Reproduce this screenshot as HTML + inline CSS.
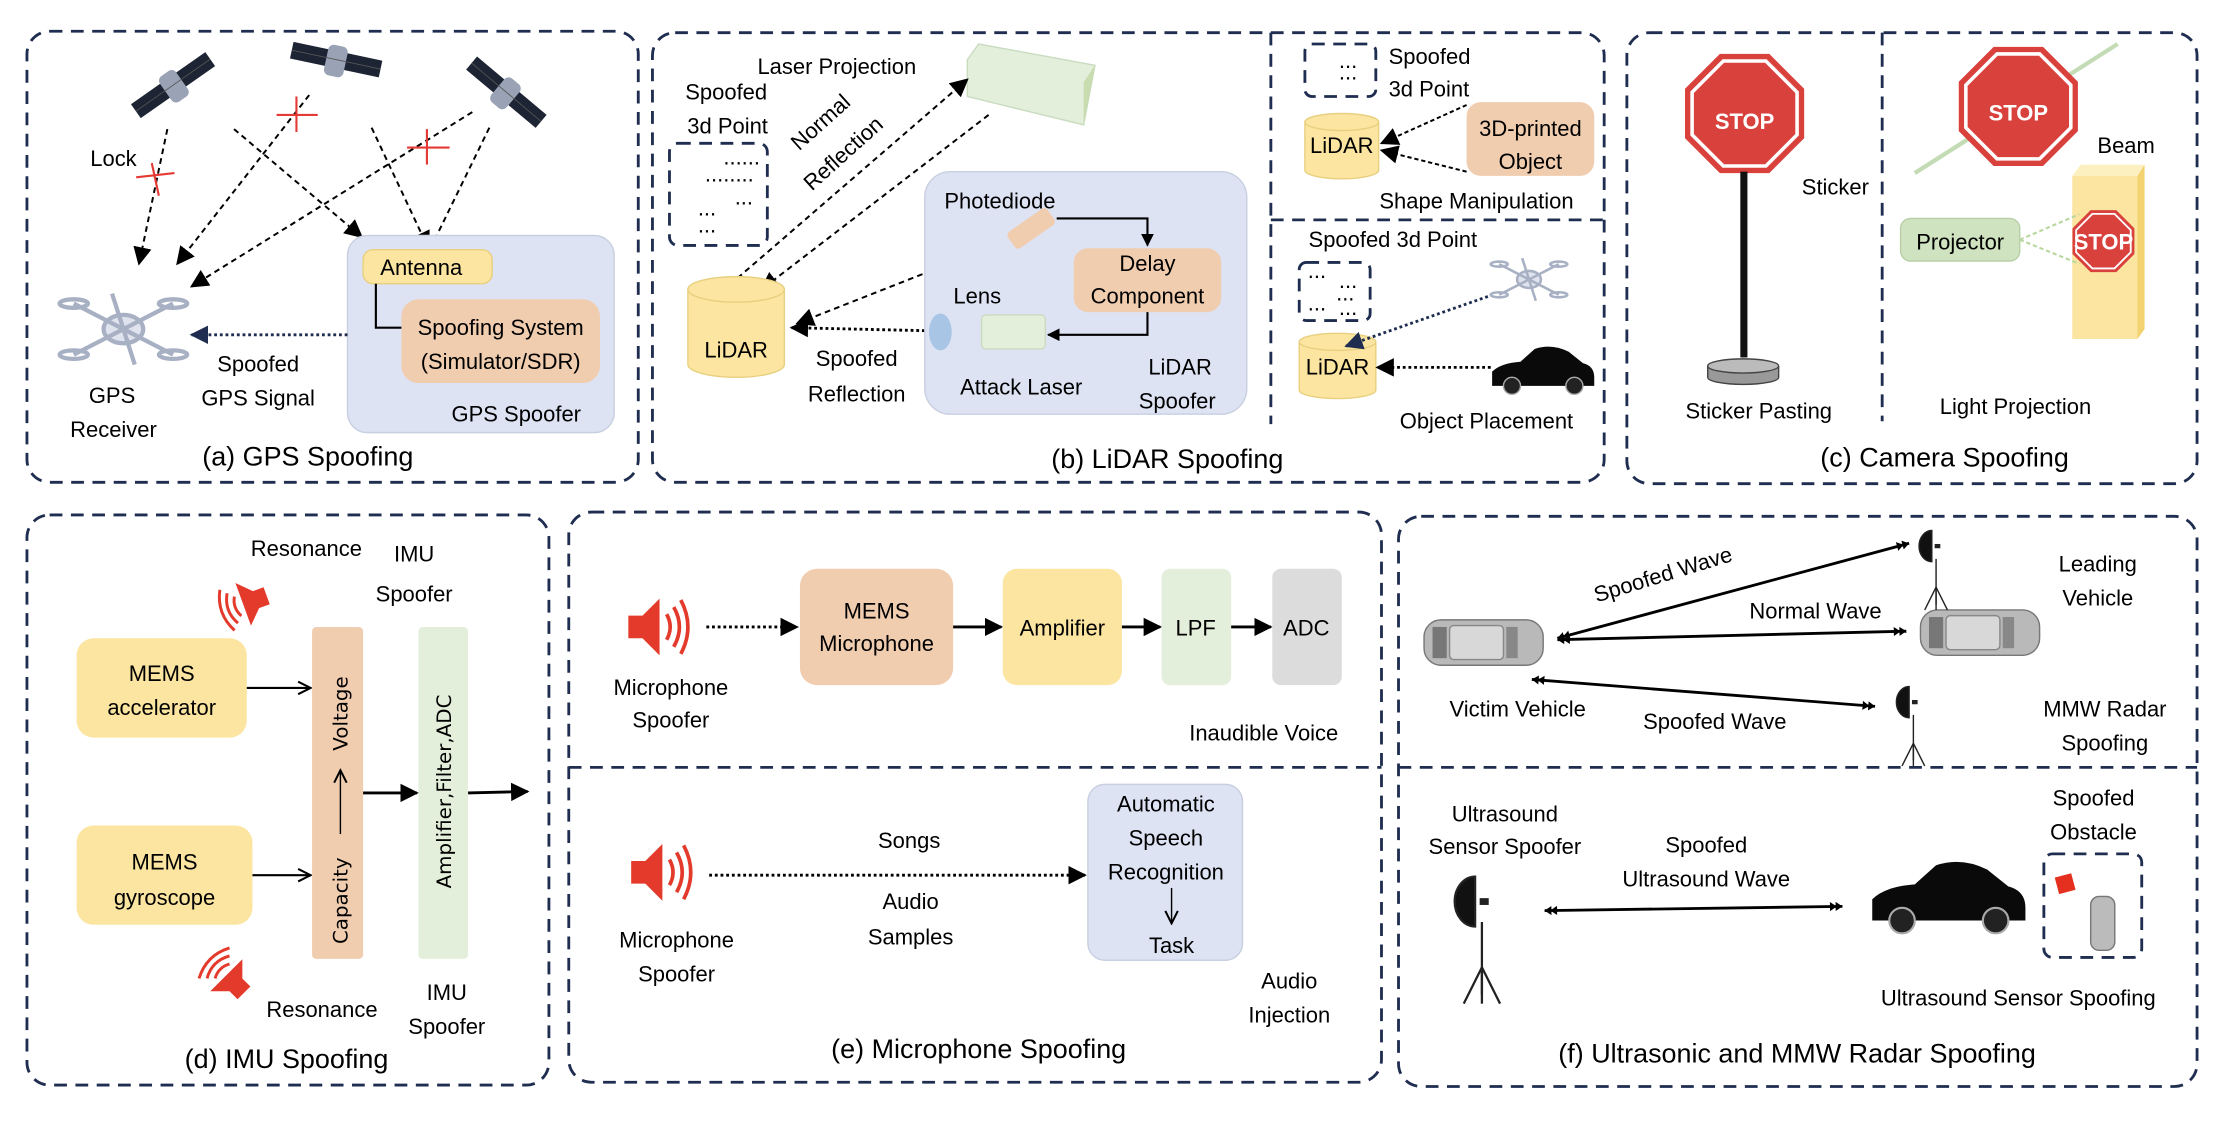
<!DOCTYPE html>
<html><head><meta charset="utf-8"><style>
html,body{margin:0;padding:0;background:#fff;}
svg{display:block;}
text{font-family:"Liberation Sans",sans-serif;font-size:15.5px;fill:#000;}
.cap{font-size:19px;}
</style></head><body>
<svg width="2224" height="1122" viewBox="0 0 1568 791" xmlns="http://www.w3.org/2000/svg">
<defs>
<marker id="ah" viewBox="0 0 10 10" refX="9" refY="5" markerWidth="9" markerHeight="9" markerUnits="userSpaceOnUse" orient="auto-start-reverse"><path d="M0,0 L10,5 L0,10 z" fill="#000"/></marker>
<marker id="ahb" viewBox="0 0 10 10" refX="9" refY="5" markerWidth="13" markerHeight="13" markerUnits="userSpaceOnUse" orient="auto-start-reverse"><path d="M0,0 L10,5 L0,10 z" fill="#000"/></marker>
<marker id="ahn" viewBox="0 0 10 10" refX="9" refY="5" markerWidth="13" markerHeight="13" markerUnits="userSpaceOnUse" orient="auto-start-reverse"><path d="M0,0 L10,5 L0,10 z" fill="#1f2d50"/></marker>
<marker id="ao" viewBox="0 0 10 10" refX="9" refY="5" markerWidth="11" markerHeight="11" markerUnits="userSpaceOnUse" orient="auto"><path d="M1,1 L9,5 L1,9" fill="none" stroke="#000" stroke-width="1.3"/></marker>
<marker id="dd" viewBox="0 0 12 10" refX="11" refY="5" markerWidth="10" markerHeight="8" markerUnits="userSpaceOnUse" orient="auto-start-reverse"><path d="M0,1 L6,5 L0,9 z M5,1 L11,5 L5,9 z" fill="#000"/></marker>
<g id="sat"><rect x="-32" y="-6" width="26" height="12" fill="#1d2433"/><rect x="6" y="-6" width="26" height="12" fill="#1d2433"/><rect x="-7" y="-10" width="14" height="22" rx="4" fill="#9aa3b5"/><line x1="-32" y1="0" x2="32" y2="0" stroke="#555" stroke-width="0.6"/></g>
<g id="drone" fill="none" stroke="#a8b0c4" stroke-width="3"><ellipse cx="0" cy="0" rx="14" ry="10" fill="#dfe3ee"/><line x1="-35" y1="-18" x2="35" y2="18"/><line x1="-35" y1="18" x2="35" y2="-18"/><line x1="-8" y1="-25" x2="8" y2="25"/><ellipse cx="-35" cy="-18" rx="10" ry="3"/><ellipse cx="35" cy="18" rx="10" ry="3"/><ellipse cx="35" cy="-18" rx="10" ry="3"/><ellipse cx="-35" cy="18" rx="10" ry="3"/></g>
<g id="topcar"><rect x="-42" y="-16" width="84" height="32" rx="12" fill="#b9b9b9" stroke="#777"/><rect x="-24" y="-12" width="38" height="24" rx="3" fill="#d8d8d8" stroke="#888"/><rect x="-36" y="-11" width="10" height="22" fill="#777"/><rect x="16" y="-11" width="8" height="22" fill="#888"/></g>
<g id="blackcar"><path d="M-36,8 L-36,-2 Q-30,-8 -16,-9 L-6,-18 Q6,-22 18,-16 L28,-8 Q36,-6 36,2 L36,8 z" fill="#0a0a0a"/><circle cx="-22" cy="8" r="6" fill="#222" stroke="#aaa"/><circle cx="22" cy="8" r="6" fill="#222" stroke="#aaa"/></g>
<g id="tripod" stroke="#222" fill="none" stroke-width="1"><path d="M0,-20 a9,11 0 0 0 0,22 z" fill="#111"/><line x1="2" y1="-9" x2="6" y2="-9" stroke-width="3"/><line x1="3" y1="0" x2="3" y2="32"/><line x1="3" y1="20" x2="-5" y2="36"/><line x1="3" y1="20" x2="11" y2="36"/><line x1="3" y1="20" x2="3" y2="36"/></g>
<g id="spk"><path d="M0,-8 L10,-8 L22,-20 L22,20 L10,8 L0,8 z" fill="#e33a2b"/><path d="M27,-9 Q32,0 27,9 M32,-14 Q40,0 32,14 M37,-19 Q47,0 37,19" fill="none" stroke="#e33a2b" stroke-width="2.6"/></g>
<g id="octa"><polygon points="-17,-41 17,-41 41,-17 41,17 17,41 -17,41 -41,17 -41,-17" fill="#d9413c" stroke="#d9413c" stroke-width="2"/><polygon points="-15,-37 15,-37 37,-15 37,15 15,37 -15,37 -37,15 -37,-15" fill="#d9413c" stroke="#fff" stroke-width="2.5"/></g>
</defs>
<g fill="none" stroke="#1f2d50" stroke-width="2" stroke-dasharray="9,6">
<rect x="19" y="22" width="431" height="318" rx="16"/>
<rect x="460" y="23" width="671" height="317" rx="16"/>
<line x1="896" y1="23" x2="896" y2="299"/><line x1="896" y1="155" x2="1131" y2="155"/>
<rect x="1147" y="23" width="402" height="318" rx="16"/>
<line x1="1327" y1="23" x2="1327" y2="297"/>
<rect x="19" y="363" width="368" height="402" rx="16"/>
<rect x="401" y="361" width="573" height="402" rx="16"/>
<line x1="401" y1="541" x2="974" y2="541"/>
<rect x="986" y="364" width="563" height="402" rx="16"/>
<line x1="986" y1="541" x2="1549" y2="541"/>
</g>
<!-- (a) -->
<use href="#sat" transform="translate(122,60) rotate(-35)"/>
<use href="#sat" transform="translate(237,42) rotate(12)"/>
<use href="#sat" transform="translate(357,65) rotate(40)"/>
<g stroke="#000" stroke-width="1.4" stroke-dasharray="4,3" fill="none">
<line x1="118" y1="91" x2="98" y2="186" marker-end="url(#ahb)"/>
<line x1="218" y1="67" x2="125" y2="186" marker-end="url(#ahb)"/>
<line x1="165" y1="91" x2="255" y2="167" marker-end="url(#ahb)"/>
<line x1="262" y1="90" x2="302" y2="175" marker-end="url(#ahb)"/>
<line x1="333" y1="79" x2="135" y2="202" marker-end="url(#ahb)"/>
<line x1="345" y1="90" x2="305" y2="172"/>
</g>
<g stroke="#e53935" stroke-width="1.5"><line x1="96" y1="125" x2="123" y2="122"/><line x1="107" y1="115" x2="112" y2="138"/><line x1="195" y1="81" x2="224" y2="81"/><line x1="209" y1="68" x2="209" y2="93"/><line x1="287" y1="104" x2="317" y2="104"/><line x1="301" y1="91" x2="301" y2="116"/></g>
<text x="80" y="117" text-anchor="middle">Lock</text>
<use href="#drone" transform="translate(87,232)"/>
<rect x="245" y="166" width="188" height="139" rx="14" fill="#dde3f3" stroke="#c8cfe0"/>
<rect x="256" y="176" width="91" height="24" rx="7" fill="#fbe5a0" stroke="#e8d080"/>
<text x="297" y="194" text-anchor="middle">Antenna</text>
<rect x="283" y="211" width="140" height="59" rx="12" fill="#f1cdb0"/>
<text x="353" y="236" text-anchor="middle">Spoofing System</text>
<text x="353" y="260" text-anchor="middle">(Simulator/SDR)</text>
<polyline points="265,200 265,231 283,231" fill="none" stroke="#000" stroke-width="1.5"/>
<line x1="245" y1="236" x2="135" y2="236" stroke="#1f2d50" stroke-width="2" stroke-dasharray="2,2" marker-end="url(#ahn)"/>
<text x="182" y="262" text-anchor="middle">Spoofed</text><text x="182" y="286" text-anchor="middle">GPS Signal</text>
<text x="79" y="284" text-anchor="middle">GPS</text><text x="80" y="308" text-anchor="middle">Receiver</text>
<text x="364" y="297" text-anchor="middle">GPS Spoofer</text>
<text x="217" y="328" text-anchor="middle" class="cap">(a) GPS Spoofing</text>
<!-- (b) -->
<text x="590" y="52" text-anchor="middle">Laser Projection</text>
<text x="512" y="70" text-anchor="middle">Spoofed</text><text x="513" y="94" text-anchor="middle">3d Point</text>
<rect x="472" y="101" width="69" height="72" rx="6" fill="none" stroke="#1f2d50" stroke-width="2" stroke-dasharray="9,6"/>
<text x="510" y="116" font-size="11">......</text><text x="497" y="128" font-size="11">........</text><text x="518" y="144" font-size="11">...</text><text x="492" y="152" font-size="11">...</text><text x="492" y="164" font-size="11">...</text>
<text transform="translate(582,90) rotate(-42)" text-anchor="middle">Normal</text>
<text transform="translate(598,112) rotate(-42)" text-anchor="middle">Reflection</text>
<polygon points="682,42 690,31 772,46 764,88 682,68" fill="#e3efdb" stroke="#c9dcc0"/>
<polygon points="764,58 772,46 764,88" fill="#c9dcb0"/>
<g stroke="#000" stroke-width="1.4" stroke-dasharray="4,3" fill="none">
<line x1="520" y1="196" x2="682" y2="56" marker-end="url(#ahb)"/>
<line x1="697" y1="81" x2="537" y2="204" marker-end="url(#ahb)"/>
<line x1="562" y1="228" x2="707" y2="171" marker-start="url(#ahb)" marker-end="url(#ahb)"/>
</g>
<line x1="692" y1="234" x2="558" y2="231" stroke="#000" stroke-width="2" stroke-dasharray="2,2" marker-end="url(#ahb)"/>
<g><path d="M485,204 v53 a34,9 0 0 0 68,0 v-53" fill="#fbe5a0" stroke="#e8d080"/><ellipse cx="519" cy="204" rx="34" ry="9" fill="#fbe5a0" stroke="#e8d080"/></g>
<text x="519" y="252" text-anchor="middle">LiDAR</text>
<text x="604" y="258" text-anchor="middle">Spoofed</text><text x="604" y="283" text-anchor="middle">Reflection</text>
<rect x="652" y="121" width="227" height="171" rx="18" fill="#dde3f3" stroke="#c8cfe0"/>
<text x="705" y="147" text-anchor="middle">Photediode</text>
<rect x="710" y="154" width="34" height="14" rx="3" fill="#f1cdb0" transform="rotate(-35 727 161)"/>
<rect x="757" y="175" width="104" height="45" rx="10" fill="#f1cdb0"/>
<text x="809" y="191" text-anchor="middle">Delay</text><text x="809" y="214" text-anchor="middle">Component</text>
<polyline points="745,154 809,154 809,173" fill="none" stroke="#000" stroke-width="1.5" marker-end="url(#ah)"/>
<polyline points="809,220 809,236 739,236" fill="none" stroke="#000" stroke-width="1.5" marker-end="url(#ah)"/>
<rect x="692" y="222" width="45" height="24" rx="3" fill="#e3efda" stroke="#c9dcc0"/>
<ellipse cx="663" cy="234" rx="8" ry="13" fill="#a9c5e6"/>
<text x="689" y="214" text-anchor="middle">Lens</text>
<text x="720" y="278" text-anchor="middle">Attack Laser</text>
<text x="832" y="264" text-anchor="middle">LiDAR</text><text x="830" y="288" text-anchor="middle">Spoofer</text>
<text x="823" y="330" text-anchor="middle" class="cap">(b) LiDAR Spoofing</text>
<rect x="920" y="31" width="50" height="37" rx="5" fill="none" stroke="#1f2d50" stroke-width="2" stroke-dasharray="9,6"/>
<text x="944" y="48" font-size="10">...</text><text x="944" y="56" font-size="10">...</text>
<text x="979" y="45">Spoofed</text><text x="979" y="68">3d Point</text>
<g><path d="M920,86 v34 a26,6 0 0 0 52,0 v-34" fill="#fbe5a0" stroke="#e8d080"/><ellipse cx="946" cy="86" rx="26" ry="6" fill="#fbe5a0" stroke="#e8d080"/></g>
<text x="946" y="108" text-anchor="middle">LiDAR</text>
<rect x="1034" y="72" width="90" height="52" rx="10" fill="#f1cdb0"/>
<text x="1079" y="96" text-anchor="middle">3D-printed</text><text x="1079" y="119" text-anchor="middle">Object</text>
<g stroke="#000" stroke-width="1.4" stroke-dasharray="3,2" fill="none"><line x1="1034" y1="74" x2="974" y2="101" marker-end="url(#ahb)"/><line x1="1034" y1="121" x2="974" y2="106" marker-end="url(#ahb)"/></g>
<text x="1041" y="147" text-anchor="middle">Shape Manipulation</text>
<text x="982" y="174" text-anchor="middle">Spoofed 3d Point</text>
<rect x="916" y="185" width="50" height="41" rx="5" fill="none" stroke="#1f2d50" stroke-width="2" stroke-dasharray="9,6"/>
<text x="922" y="196" font-size="10">...</text><text x="944" y="203" font-size="10">...</text><text x="942" y="212" font-size="10">...</text><text x="922" y="219" font-size="10">...</text><text x="944" y="222" font-size="10">...</text>
<g><path d="M916,241 v34 a27,6 0 0 0 54,0 v-34" fill="#fbe5a0" stroke="#e8d080"/><ellipse cx="943" cy="241" rx="27" ry="6" fill="#fbe5a0" stroke="#e8d080"/></g>
<text x="943" y="264" text-anchor="middle">LiDAR</text>
<use href="#drone" transform="translate(1078,197) scale(0.6)"/>
<line x1="1049" y1="209" x2="949" y2="244" stroke="#1f2d50" stroke-width="2" stroke-dasharray="2,2" marker-end="url(#ahn)"/>
<use href="#blackcar" transform="translate(1088,264)"/>
<line x1="1051" y1="259" x2="971" y2="259" stroke="#000" stroke-width="2" stroke-dasharray="2,2" marker-end="url(#ahb)"/>
<text x="1048" y="302" text-anchor="middle">Object Placement</text>
<!-- (c) -->
<use href="#octa" transform="translate(1230,80)"/>
<text x="1230" y="91" text-anchor="middle" font-size="27" font-weight="bold" style="fill:#fff">STOP</text>
<rect x="1227" y="121" width="5" height="131" fill="#111"/>
<path d="M1204,258 v8 a25,5 0 0 0 50,0 v-8" fill="#999" stroke="#444"/><ellipse cx="1229" cy="258" rx="25" ry="5" fill="#bbb" stroke="#444"/>
<text x="1294" y="137" text-anchor="middle">Sticker</text>
<text x="1240" y="295" text-anchor="middle">Sticker Pasting</text>
<line x1="1350" y1="122" x2="1493" y2="31" stroke="#c3dcb5" stroke-width="3"/>
<use href="#octa" transform="translate(1423,75)"/>
<text x="1423" y="85" text-anchor="middle" font-size="26" font-weight="bold" style="fill:#fff">STOP</text>
<text x="1499" y="108" text-anchor="middle">Beam</text>
<polygon points="1461,124 1467,116 1512,116 1507,124" fill="#fdf0c0"/>
<rect x="1461" y="124" width="46" height="115" fill="#fbe5a0"/>
<polygon points="1507,124 1512,116 1512,232 1507,239" fill="#f3d270"/>
<use href="#octa" transform="translate(1483,170) scale(0.52)"/>
<text x="1483" y="176" text-anchor="middle" font-size="13" font-weight="bold" style="fill:#fff">STOP</text>
<g stroke="#b8d8a0" stroke-width="1.5" stroke-dasharray="3,2"><line x1="1424" y1="169" x2="1466" y2="151"/><line x1="1424" y1="169" x2="1466" y2="186"/></g>
<rect x="1340" y="154" width="84" height="30" rx="7" fill="#cfe3c0" stroke="#b8d0a8"/>
<text x="1382" y="176" text-anchor="middle">Projector</text>
<text x="1421" y="292" text-anchor="middle">Light Projection</text>
<text x="1371" y="329" text-anchor="middle" class="cap">(c) Camera Spoofing</text>
<!-- (d) -->
<text x="216" y="392" text-anchor="middle">Resonance</text><text x="292" y="396" text-anchor="middle">IMU</text><text x="292" y="424" text-anchor="middle">Spoofer</text>
<use href="#spk" transform="translate(188,420) rotate(160) scale(0.8)"/>
<rect x="54" y="450" width="120" height="70" rx="12" fill="#fbe5a0"/>
<text x="114" y="480" text-anchor="middle">MEMS</text><text x="114" y="504" text-anchor="middle">accelerator</text>
<rect x="54" y="582" width="124" height="70" rx="12" fill="#fbe5a0"/>
<text x="116" y="613" text-anchor="middle">MEMS</text><text x="116" y="638" text-anchor="middle">gyroscope</text>
<rect x="220" y="442" width="36" height="234" rx="3" fill="#f1cdb0"/>
<rect x="295" y="442" width="35" height="234" rx="3" fill="#e3efda"/>
<text transform="translate(245,635) rotate(-90)" text-anchor="middle" style="font-family:'DejaVu Sans',sans-serif;font-size:14px">Capacity</text>
<text transform="translate(245,503) rotate(-90)" text-anchor="middle" style="font-family:'DejaVu Sans',sans-serif;font-size:14px">Voltage</text>
<line x1="240" y1="588" x2="240" y2="543" stroke="#000" stroke-width="1" marker-end="url(#ao)"/>
<text transform="translate(318,558) rotate(-90)" text-anchor="middle" style="font-family:'DejaVu Sans',sans-serif;font-size:14px">Amplifier,Filter,ADC</text>
<line x1="174" y1="485" x2="219" y2="485" stroke="#000" stroke-width="1.5" marker-end="url(#ao)"/>
<line x1="178" y1="617" x2="219" y2="617" stroke="#000" stroke-width="1.5" marker-end="url(#ao)"/>
<line x1="256" y1="559" x2="294" y2="559" stroke="#000" stroke-width="2" marker-end="url(#ahb)"/>
<line x1="330" y1="559" x2="372" y2="558" stroke="#000" stroke-width="2" marker-end="url(#ahb)"/>
<use href="#spk" transform="translate(172,700) rotate(-135) scale(0.8)"/>
<text x="227" y="717" text-anchor="middle">Resonance</text>
<text x="315" y="705" text-anchor="middle">IMU</text><text x="315" y="729" text-anchor="middle">Spoofer</text>
<text x="202" y="753" text-anchor="middle" class="cap">(d) IMU Spoofing</text>
<!-- (e) -->
<use href="#spk" transform="translate(443,442)"/>
<line x1="498" y1="442" x2="562" y2="442" stroke="#000" stroke-width="2" stroke-dasharray="2,2" marker-end="url(#ahb)"/>
<rect x="564" y="401" width="108" height="82" rx="12" fill="#f1cdb0"/>
<text x="618" y="436" text-anchor="middle">MEMS</text><text x="618" y="459" text-anchor="middle">Microphone</text>
<line x1="672" y1="442" x2="706" y2="442" stroke="#000" stroke-width="2" marker-end="url(#ahb)"/>
<rect x="707" y="401" width="84" height="82" rx="10" fill="#fbe5a0"/>
<text x="749" y="448" text-anchor="middle">Amplifier</text>
<line x1="791" y1="442" x2="818" y2="442" stroke="#000" stroke-width="2" marker-end="url(#ahb)"/>
<rect x="819" y="401" width="49" height="82" rx="6" fill="#e3efda"/>
<text x="843" y="448" text-anchor="middle">LPF</text>
<line x1="868" y1="442" x2="896" y2="442" stroke="#000" stroke-width="2" marker-end="url(#ahb)"/>
<rect x="897" y="401" width="49" height="82" rx="6" fill="#dcdcdc"/>
<text x="921" y="448" text-anchor="middle">ADC</text>
<text x="891" y="522" text-anchor="middle">Inaudible Voice</text>
<text x="473" y="490" text-anchor="middle">Microphone</text><text x="473" y="513" text-anchor="middle">Spoofer</text>
<use href="#spk" transform="translate(445,615)"/>
<line x1="500" y1="617" x2="765" y2="617" stroke="#000" stroke-width="2" stroke-dasharray="2,2" marker-end="url(#ahb)"/>
<text x="641" y="598" text-anchor="middle">Songs</text>
<text x="642" y="641" text-anchor="middle">Audio</text><text x="642" y="666" text-anchor="middle">Samples</text>
<rect x="767" y="553" width="109" height="124" rx="12" fill="#dde3f3" stroke="#c8cfe0"/>
<text x="822" y="572" text-anchor="middle">Automatic</text><text x="822" y="596" text-anchor="middle">Speech</text><text x="822" y="620" text-anchor="middle">Recognition</text>
<line x1="826" y1="626" x2="826" y2="651" stroke="#000" stroke-width="1" marker-end="url(#ao)"/>
<text x="826" y="672" text-anchor="middle">Task</text>
<text x="477" y="668" text-anchor="middle">Microphone</text><text x="477" y="692" text-anchor="middle">Spoofer</text>
<text x="909" y="697" text-anchor="middle">Audio</text><text x="909" y="721" text-anchor="middle">Injection</text>
<text x="690" y="746" text-anchor="middle" class="cap">(e) Microphone Spoofing</text>
<!-- (f) -->
<use href="#topcar" transform="translate(1046,453)"/>
<use href="#topcar" transform="translate(1396,446)"/>
<use href="#tripod" transform="translate(1362,394)"/>
<use href="#tripod" transform="translate(1346,504)"/>
<line x1="1098" y1="450" x2="1346" y2="383" stroke="#000" stroke-width="2" marker-start="url(#dd)" marker-end="url(#dd)"/>
<line x1="1098" y1="451" x2="1344" y2="445" stroke="#000" stroke-width="2" marker-start="url(#dd)" marker-end="url(#dd)"/>
<line x1="1080" y1="479" x2="1322" y2="498" stroke="#000" stroke-width="2" marker-start="url(#dd)" marker-end="url(#dd)"/>
<text transform="translate(1174,410) rotate(-17)" text-anchor="middle">Spoofed Wave</text>
<text x="1280" y="436" text-anchor="middle">Normal Wave</text>
<text x="1070" y="505" text-anchor="middle">Victim Vehicle</text>
<text x="1209" y="514" text-anchor="middle">Spoofed Wave</text>
<text x="1479" y="403" text-anchor="middle">Leading</text><text x="1479" y="427" text-anchor="middle">Vehicle</text>
<text x="1484" y="505" text-anchor="middle">MMW Radar</text><text x="1484" y="529" text-anchor="middle">Spoofing</text>
<text x="1061" y="579" text-anchor="middle">Ultrasound</text><text x="1061" y="602" text-anchor="middle">Sensor Spoofer</text>
<use href="#tripod" transform="translate(1040,650) scale(1.6)"/>
<text x="1203" y="601" text-anchor="middle">Spoofed</text><text x="1203" y="625" text-anchor="middle">Ultrasound Wave</text>
<line x1="1089" y1="642" x2="1299" y2="639" stroke="#000" stroke-width="2" marker-start="url(#dd)" marker-end="url(#dd)"/>
<use href="#blackcar" transform="translate(1374,637) scale(1.5)"/>
<rect x="1441" y="602" width="69" height="73" rx="6" fill="none" stroke="#1f2d50" stroke-width="2" stroke-dasharray="9,6"/>
<rect x="1450" y="617" width="12" height="12" fill="#e53020" transform="rotate(-15 1456 623)"/>
<rect x="1474" y="632" width="17" height="38" rx="6" fill="#bbb" stroke="#777"/>
<text x="1476" y="568" text-anchor="middle">Spoofed</text><text x="1476" y="592" text-anchor="middle">Obstacle</text>
<text x="1423" y="709" text-anchor="middle">Ultrasound Sensor Spoofing</text>
<text x="1267" y="749" text-anchor="middle" class="cap">(f) Ultrasonic and MMW Radar Spoofing</text>
</svg>
</body></html>
